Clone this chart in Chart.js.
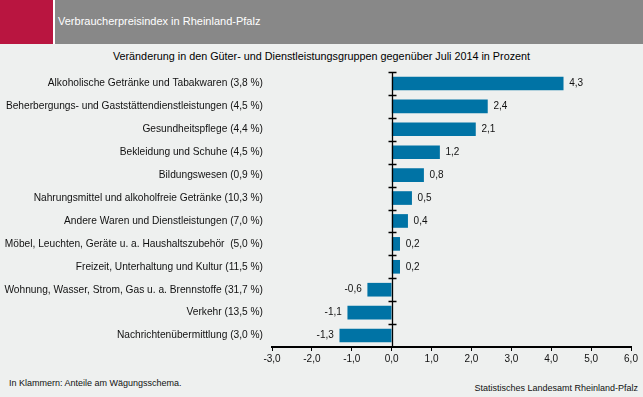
<!DOCTYPE html>
<html><head><meta charset="utf-8">
<script src="https://cdn.jsdelivr.net/npm/chart.js@4"></script>
<style>
html,body{margin:0;padding:0;background:#eef0ef;width:643px;height:397px;overflow:hidden;font-family:"Liberation Sans",Arial,sans-serif;}
#red{position:absolute;left:0;top:0;width:53px;height:44px;background:#b91540;}
#gap{position:absolute;left:53px;top:0;width:2px;height:44px;background:#fff;}
#band{position:absolute;left:55px;top:0;width:588px;height:44px;background:#888888;}
#htxt{position:absolute;left:58px;top:15px;font-size:11px;color:#fff;white-space:nowrap;}
#title{position:absolute;left:0;width:643px;top:50px;text-align:center;font-size:10.8px;color:#000;white-space:nowrap;}
#fl{position:absolute;left:9px;top:378px;font-size:9px;color:#111;white-space:nowrap;}
#fr{position:absolute;right:5px;top:383px;font-size:9px;color:#111;white-space:nowrap;}
canvas{position:absolute;left:0;top:0;}
</style></head>
<body>
<div id="red"></div><div id="gap"></div><div id="band"></div>
<div id="htxt">Verbraucherpreisindex in Rheinland-Pfalz</div>
<div id="title">Veränderung in den Güter- und Dienstleistungsgruppen gegenüber Juli 2014 in Prozent</div>
<div id="fl">In Klammern: Anteile am Wägungsschema.</div>
<div id="fr">Statistisches Landesamt Rheinland-Pfalz</div>
<canvas id="c" width="643" height="397"></canvas>
<script>
const categories = [
  "Alkoholische Getränke und Tabakwaren (3,8 %)",
  "Beherbergungs- und Gaststättendienstleistungen (4,5 %)",
  "Gesundheitspflege (4,4 %)",
  "Bekleidung und Schuhe (4,5 %)",
  "Bildungswesen (0,9 %)",
  "Nahrungsmittel und alkoholfreie Getränke (10,3 %)",
  "Andere Waren und Dienstleistungen (7,0 %)",
  "Möbel, Leuchten, Geräte u. a. Haushaltszubehör  (5,0 %)",
  "Freizeit, Unterhaltung und Kultur (11,5 %)",
  "Wohnung, Wasser, Strom, Gas u. a. Brennstoffe (31,7 %)",
  "Verkehr (13,5 %)",
  "Nachrichtenübermittlung (3,0 %)"
];
const values = [4.3, 2.4, 2.1, 1.2, 0.8, 0.5, 0.4, 0.2, 0.2, -0.6, -1.1, -1.3];
const xMin = -3, xMax = 6, xStep = 1;

const fmt = v => v.toFixed(1).replace('.', ',');

const zeroLine = {
  id: 'zeroLine',
  afterDatasetsDraw(chart) {
    const {ctx, chartArea, scales} = chart;
    const x0 = Math.round(scales.x.getPixelForValue(0)) + 0.5;
    ctx.save();
    ctx.strokeStyle = '#000';
    ctx.lineWidth = 1.3;
    ctx.beginPath();
    ctx.moveTo(x0, chartArea.top);
    ctx.lineTo(x0, chartArea.bottom);
    const n = categories.length;
    for (let i = 0; i < n; i++) {
      let y;
      if (i === 0) y = chartArea.top;
      else y = (scales.y.getPixelForValue(i - 1) + scales.y.getPixelForValue(i)) / 2;
      y = Math.round(y) + 0.5;
      ctx.moveTo(x0 - 4, y);
      ctx.lineTo(x0 + 4, y);
    }
    ctx.stroke();
    ctx.restore();
  }
};

const valueLabels = {
  id: 'valueLabels',
  afterDatasetsDraw(chart) {
    const {ctx} = chart;
    const meta = chart.getDatasetMeta(0);
    ctx.save();
    ctx.font = '10px "Liberation Sans", Arial, sans-serif';
    ctx.fillStyle = '#111';
    ctx.textBaseline = 'middle';
    meta.data.forEach((el, i) => {
      const v = values[i];
      if (v >= 0) { ctx.textAlign = 'left'; ctx.fillText(fmt(v), el.x + 6, el.y); }
      else { ctx.textAlign = 'right'; ctx.fillText(fmt(v), el.x - 6, el.y); }
    });
    ctx.restore();
  }
};

new Chart(document.getElementById('c'), {
  type: 'bar',
  data: {
    labels: categories,
    datasets: [{ data: values, backgroundColor: '#0073a5', borderWidth: 0, barThickness: 13 }]
  },
  options: {
    indexAxis: 'y',
    responsive: false,
    animation: false,
    layout: { padding: { top: 72, right: 12, bottom: 0, left: 0 } },
    plugins: { legend: { display: false }, tooltip: { enabled: false } },
    scales: {
      x: {
        min: xMin, max: xMax,
        ticks: { stepSize: xStep, callback: v => fmt(v), color: '#111', padding: 2,
                 font: { size: 10, family: '"Liberation Sans", Arial, sans-serif' } },
        grid: { drawOnChartArea: false, drawTicks: true, tickLength: 4, color: '#000', lineWidth: 1 },
        border: { display: true, color: '#000', width: 2 },
        afterFit: s => { s.height = 50; }
      },
      y: {
        ticks: { color: '#111', padding: 9, autoSkip: false,
                 font: { size: 10.2, family: '"Liberation Sans", Arial, sans-serif' } },
        grid: { display: false, drawTicks: false },
        border: { display: false },
        afterFit: s => { s.width = 272; }
      }
    }
  },
  plugins: [zeroLine, valueLabels]
});
</script>
</body></html>
